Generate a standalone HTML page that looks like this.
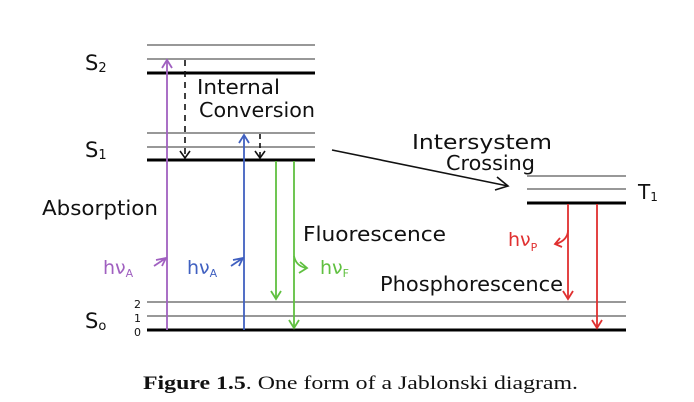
<!DOCTYPE html>
<html><head><style>
html,body{margin:0;padding:0;background:#fff;}
svg{display:block;}
.t{font-family:"DejaVu Sans","Liberation Sans",sans-serif;fill:#111;}
</style></head><body>
<svg width="694" height="402" viewBox="0 0 694 402" xmlns="http://www.w3.org/2000/svg">
<g stroke="#777" stroke-width="1.6">
<line x1="147" y1="45" x2="315" y2="45"/><line x1="147" y1="59" x2="315" y2="59"/>
<line x1="147" y1="133" x2="315" y2="133"/><line x1="147" y1="147" x2="315" y2="147"/>
<line x1="527" y1="176" x2="626" y2="176"/><line x1="527" y1="189" x2="626" y2="189"/>
<line x1="147" y1="302" x2="626" y2="302"/><line x1="147" y1="316" x2="626" y2="316"/>
</g>
<g stroke="#000" stroke-width="3">
<line x1="147" y1="73" x2="315" y2="73"/><line x1="147" y1="160" x2="315" y2="160"/>
<line x1="527" y1="203" x2="626" y2="203"/><line x1="147" y1="330" x2="626" y2="330"/>
</g>
<g stroke="#a060c0" stroke-width="1.8" fill="none">
<line x1="167" y1="330" x2="167" y2="60"/><path d="M162,68 L167,60 L172,68"/>
<path d="M154,266 L166,258 M156,260 L166,258 L162,266"/>
</g>
<g stroke="#111" stroke-width="1.6" fill="none">
<line x1="185" y1="60" x2="185" y2="158" stroke-dasharray="6,5"/><path d="M180,151 L185,158 L190,151"/>
<line x1="260" y1="134" x2="260" y2="158" stroke-dasharray="5,4"/><path d="M255,151 L260,158 L265,151"/>
<line x1="332" y1="150" x2="508" y2="186"/><path d="M497,177 L508,186 L495,190"/>
</g>
<g stroke="#4060c0" stroke-width="1.8" fill="none">
<line x1="244" y1="330" x2="244" y2="135"/><path d="M239,143 L244,135 L249,143"/>
<path d="M231,266 L243,258 M233,260 L243,258 L239,266"/>
</g>
<g stroke="#60c040" stroke-width="1.8" fill="none">
<line x1="276" y1="161" x2="276" y2="299"/><path d="M271,291 L276,299 L281,291"/>
<line x1="294" y1="161" x2="294" y2="328"/><path d="M289,320 L294,328 L299,320"/>
<path d="M294,256 Q296,266 306,268 M300,262 L307,268 L299,273"/>
</g>
<g stroke="#e03030" stroke-width="1.8" fill="none">
<line x1="568" y1="204" x2="568" y2="299"/><path d="M563,291 L568,299 L573,291"/>
<line x1="597" y1="204" x2="597" y2="328"/><path d="M592,320 L597,328 L602,320"/>
<path d="M568,230 Q568,240 556,244 M560,238 L555,244 L562,247"/>
</g>
<g class="t" lengthAdjust="spacingAndGlyphs">
<text x="85" y="70" font-size="21">S<tspan font-size="13" dy="2">2</tspan></text>
<text x="85" y="157" font-size="21">S<tspan font-size="13" dy="2">1</tspan></text>
<text x="85" y="328" font-size="21">S<tspan font-size="13" dy="2">o</tspan></text>
<text x="197" y="94" font-size="20" textLength="83" lengthAdjust="spacingAndGlyphs">Internal</text>
<text x="199" y="117" font-size="20" textLength="116" lengthAdjust="spacingAndGlyphs">Conversion</text>
<text x="42" y="215" font-size="20" textLength="116" lengthAdjust="spacingAndGlyphs">Absorption</text>
<text x="303" y="241" font-size="20" textLength="143" lengthAdjust="spacingAndGlyphs">Fluorescence</text>
<text x="412" y="149" font-size="20" textLength="140" lengthAdjust="spacingAndGlyphs">Intersystem</text>
<text x="446" y="170" font-size="20" textLength="89" lengthAdjust="spacingAndGlyphs">Crossing</text>
<text x="380" y="291" font-size="20" textLength="183" lengthAdjust="spacingAndGlyphs">Phosphorescence</text>
<text x="638" y="199" font-size="20">T<tspan font-size="12" dy="2">1</tspan></text>
<text x="134" y="308" font-size="11">2</text>
<text x="134" y="322" font-size="11">1</text>
<text x="134" y="336" font-size="11">0</text>
<text x="103" y="274" font-size="19" style="fill:#a060c0">hν<tspan font-size="11" dy="3">A</tspan></text>
<text x="187" y="274" font-size="19" style="fill:#4060c0">hν<tspan font-size="11" dy="3">A</tspan></text>
<text x="320" y="274" font-size="19" style="fill:#60c040">hν<tspan font-size="11" dy="3">F</tspan></text>
<text x="508" y="246" font-size="19" style="fill:#e03030">hν<tspan font-size="11" dy="5">P</tspan></text>
</g>
<text x="143" y="389" font-family="'Liberation Serif',serif" font-size="19" fill="#111" textLength="435" lengthAdjust="spacingAndGlyphs"><tspan font-weight="bold">Figure 1.5</tspan>. One form of a Jablonski diagram.</text>
</svg>
</body></html>
